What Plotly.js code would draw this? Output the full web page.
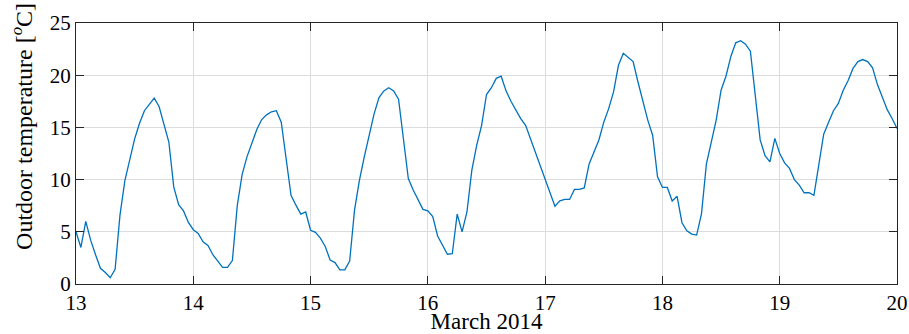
<!DOCTYPE html>
<html>
<head>
<meta charset="utf-8">
<script src="https://cdn.plot.ly/plotly-3.0.1.min.js"></script>
<style>
  html, body { margin: 0; padding: 0; background: #ffffff; }
  #chart { width: 909px; height: 334px; }
  #chart text { font-family: 'Liberation Serif', serif !important; }
</style>
</head>
<body>
<div id="chart"></div>
<script>
// Hourly outdoor temperature (°C), March 2014, one array per day (hours 0..23)
const days = [13, 14, 15, 16, 17, 18, 19];
const temp13 = [5.0, 3.5, 6.0, 4.2, 2.8, 1.5, 1.1, 0.6, 1.4, 6.6, 9.9, 12.0, 13.9, 15.4, 16.6, 17.2, 17.8, 17.0, 15.4, 13.6, 9.3, 7.6, 7.0, 5.9];
const temp14 = [5.2, 4.85, 4.05, 3.7, 2.8, 2.25, 1.6, 1.6, 2.25, 7.5, 10.5, 12.2, 13.6, 14.8, 15.75, 16.2, 16.5, 16.6, 15.5, 12.0, 8.5, 7.55, 6.7, 6.9];
const temp15 = [5.15, 4.95, 4.4, 3.6, 2.3, 2.05, 1.35, 1.35, 2.2, 7.1, 9.95, 12.2, 14.2, 16.3, 17.85, 18.5, 18.8, 18.5, 17.7, 13.9, 10.1, 9.0, 8.0, 7.15];
const temp16 = [7.0, 6.45, 4.6, 3.7, 2.85, 2.9, 6.7, 5.0, 6.9, 10.9, 13.3, 15.2, 18.15, 18.8, 19.7, 19.9, 18.5, 17.5, 16.65, 15.85, 15.2, 13.9, 12.65, 11.4];
const temp17 = [10.1, 8.85, 7.45, 7.97, 8.1, 8.1, 9.06, 9.06, 9.2, 11.5, 12.65, 13.8, 15.5, 16.8, 18.4, 20.95, 22.1, 21.7, 21.3, 19.35, 17.45, 15.7, 14.25, 10.27];
const temp18 = [9.25, 9.25, 7.95, 8.4, 5.87, 5.1, 4.78, 4.69, 6.75, 11.5, 13.6, 15.7, 18.56, 19.9, 21.8, 23.1, 23.3, 22.97, 22.3, 18.2, 13.8, 12.3, 11.7, 13.95];
const temp19 = [12.5, 11.6, 11.07, 10.0, 9.47, 8.74, 8.74, 8.5, 11.55, 14.35, 15.5, 16.6, 17.3, 18.56, 19.5, 20.65, 21.3, 21.5, 21.3, 20.7, 19.1, 17.85, 16.7, 15.85];
const lastDay = 20;
const lastTemp = 14.9;

const xTicks = [13, 14, 15, 16, 17, 18, 19, 20];
const yTicks = [0, 5, 10, 15, 20, 25];
const xLabel = 'March 2014';
const yLabel = 'Outdoor temperature [<sup><i>o</i></sup>C]';

const perDay = [temp13, temp14, temp15, temp16, temp17, temp18, temp19];
const xs = [], ys = [];
days.forEach((d, i) => {
  perDay[i].forEach((v, h) => { xs.push(d + h / 24); ys.push(v); });
});
xs.push(lastDay); ys.push(lastTemp);

const font = '"Liberation Serif"';
const axisCol = '#262626';

const trace = {
  x: xs, y: ys, type: 'scatter', mode: 'lines',
  line: { color: '#0072BD', width: 1.3 },
  hoverinfo: 'skip'
};

const layout = {
  width: 909, height: 334,
  margin: { l: 76, r: 12, t: 23, b: 50, pad: 0 },
  paper_bgcolor: '#ffffff', plot_bgcolor: '#ffffff',
  showlegend: false,
  font: { family: font, size: 21, color: '#000000' },
  xaxis: {
    range: [13, 20], tickvals: xTicks, ticktext: xTicks.map(String),
    ticks: 'inside', ticklen: 8, tickwidth: 1, tickcolor: axisCol,
    showline: true, linecolor: axisCol, linewidth: 1, mirror: 'ticks',
    showgrid: true, gridcolor: '#dcdcdc', gridwidth: 1, zeroline: false,
    tickfont: { family: font, size: 21, color: '#000' },
    title: { text: xLabel, font: { family: font, size: 23, color: '#000' }, standoff: 2 }
  },
  yaxis: {
    range: [0, 25], tickvals: yTicks, ticktext: yTicks.map(String),
    ticks: 'inside', ticklen: 8, tickwidth: 1, tickcolor: axisCol,
    showline: true, linecolor: axisCol, linewidth: 1, mirror: 'ticks',
    showgrid: true, gridcolor: '#dcdcdc', gridwidth: 1, zeroline: false,
    tickfont: { family: font, size: 21, color: '#000' }
  },
  annotations: [{
    text: yLabel, textangle: -90, showarrow: false,
    xref: 'paper', yref: 'paper', x: -0.066, y: 0.605,
    xanchor: 'center', yanchor: 'middle',
    font: { family: font, size: 24, color: '#000' }
  }]
};

Plotly.newPlot('chart', [trace], layout, { staticPlot: true, displayModeBar: false });
</script>
</body>
</html>
